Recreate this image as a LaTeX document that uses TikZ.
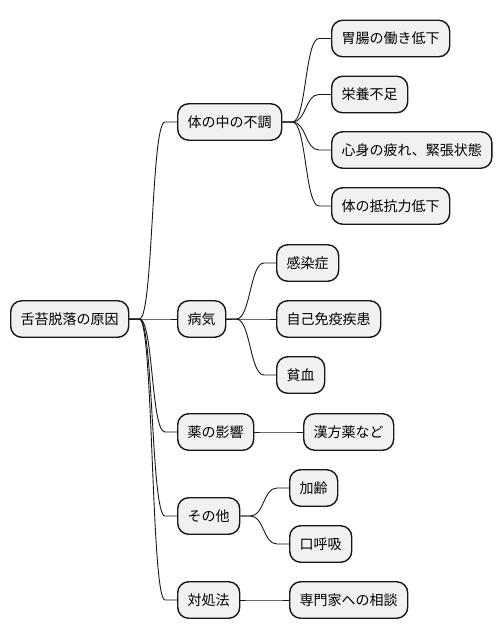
\documentclass[tikz,border=0pt]{standalone}
\usepackage{fontspec}
\newfontfamily\cjk{Noto Sans CJK JP}
\usetikzlibrary{calc}
\definecolor{boxfill}{HTML}{F1F1F1}
\definecolor{boxline}{HTML}{181818}
\tikzset{
  mmbox/.style={draw=boxline, fill=boxfill, line width=1.4pt, rounded corners=11pt,
    inner xsep=10pt, inner ysep=0pt, minimum height=36.5pt, anchor=west,
    font=\cjk\fontsize{14pt}{16pt}\selectfont, text=black},
  mmlink/.style={draw=boxline, line width=0.9pt},
}
\newcommand{\mmconn}[2]{%
  \draw[mmlink] (#1.east) -- ++(10pt,0) .. controls +(14pt,0) and ($(#2.west)+(-26pt,0)$) .. ($(#2.west)+(-12pt,0)$) -- (#2.west);}
\begin{document}
\begin{tikzpicture}[x=1pt,y=-1pt]
\useasboundingbox (0,0) rectangle (502,640);
\fill[white] (0,0) rectangle (502,640);
% root
\node[mmbox] (root) at (10,319) {舌苔脱落の原因};
% level 2
\node[mmbox] (a) at (177,122) {体の中の不調};
\node[mmbox] (b) at (177,319) {病気};
\node[mmbox] (c) at (177,432) {薬の影響};
\node[mmbox] (d) at (177,516) {その他};
\node[mmbox] (e) at (177,600) {対処法};
% level 3
\node[mmbox] (a1) at (331,38.5) {胃腸の働き低下};
\node[mmbox] (a2) at (331,94.5) {栄養不足};
\node[mmbox] (a3) at (331,150) {心身の疲れ、緊張状態};
\node[mmbox] (a4) at (331,206) {体の抵抗力低下};
\node[mmbox] (b1) at (276,263) {感染症};
\node[mmbox] (b2) at (276,319) {自己免疫疾患};
\node[mmbox] (b3) at (276,375) {貧血};
\node[mmbox] (c1) at (303,432) {漢方薬など};
\node[mmbox] (d1) at (289,488) {加齢};
\node[mmbox] (d2) at (289,544) {口呼吸};
\node[mmbox] (e1) at (289,600) {専門家への相談};
% connectors
\mmconn{root}{a}
\mmconn{root}{b}
\mmconn{root}{c}
\mmconn{root}{d}
\mmconn{root}{e}
\mmconn{a}{a1}
\mmconn{a}{a2}
\mmconn{a}{a3}
\mmconn{a}{a4}
\mmconn{b}{b1}
\mmconn{b}{b2}
\mmconn{b}{b3}
\mmconn{c}{c1}
\mmconn{d}{d1}
\mmconn{d}{d2}
\mmconn{e}{e1}
\end{tikzpicture}
\end{document}
